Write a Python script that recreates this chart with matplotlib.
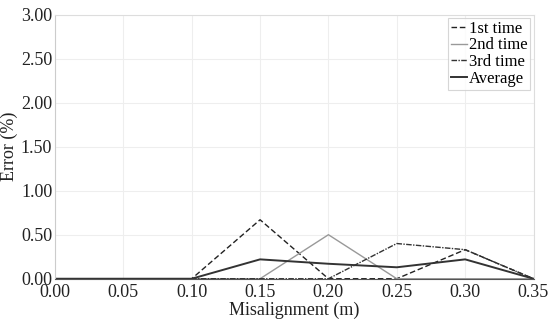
import matplotlib
matplotlib.use("Agg")
import matplotlib.pyplot as plt

plt.rcParams['font.family'] = ['Liberation Serif', 'DejaVu Serif']

x = [0.00, 0.05, 0.10, 0.15, 0.20, 0.25, 0.30, 0.35]
first = [0, 0, 0, 0.67, 0, 0, 0.33, 0]
second = [0, 0, 0, 0, 0.50, 0, 0, 0]
third = [0, 0, 0, 0, 0, 0.40, 0.33, 0]
average = [0, 0, 0, 0.22, 0.17, 0.13, 0.22, 0]

xticks = [0.00, 0.05, 0.10, 0.15, 0.20, 0.25, 0.30, 0.35]
yticks = [0.00, 0.50, 1.00, 1.50, 2.00, 2.50, 3.00]

fig = plt.figure(figsize=(5.5, 3.26), dpi=100)
ax = fig.add_axes([0.1, 0.145, 0.87, 0.81])

ax.plot(x, first, color='#222222', linestyle=(0, (4, 2)), lw=1.0, label='1st time')
ax.plot(x, second, color='#999999', linestyle='-', lw=1.0, label='2nd time')
ax.plot(x, third, color='#333333', linestyle=(0, (4, 1, 1, 1)), lw=1.0, label='3rd time')
ax.plot(x, average, color='#333333', linestyle='-', lw=1.4, label='Average')

ax.set_xlim(0, 0.35)
ax.set_ylim(0, 3.0)
ax.set_xticks(xticks)
ax.set_xticklabels([f"{v:.2f}" for v in xticks])
ax.set_yticks(yticks)
ax.set_yticklabels([f"{v:.2f}" for v in yticks])
ax.grid(True, color='#eeeeee', lw=0.8)
ax.tick_params(axis='both', labelsize=13, length=0, colors='#222222')
ax.tick_params(axis='x', pad=4)
ax.tick_params(axis='y', pad=2)
for s in ['top', 'right']:
    ax.spines[s].set_color('#dddddd')
ax.spines['left'].set_color('#cccccc')
ax.spines['bottom'].set_color('#555555')
ax.set_xlabel('Misalignment (m)', fontsize=13, labelpad=0, color='#222222')
ax.set_ylabel('Error (%)', fontsize=13, labelpad=2, color='#222222')

leg = ax.legend(loc='upper right', fontsize=12, frameon=True, fancybox=False,
                handlelength=1.0, handletextpad=0.1, borderpad=0.15, labelspacing=0.05,
                borderaxespad=0.2)
leg.get_frame().set_edgecolor('#cccccc')
leg.get_frame().set_linewidth(0.8)

fig.savefig('out.png', dpi=100)
